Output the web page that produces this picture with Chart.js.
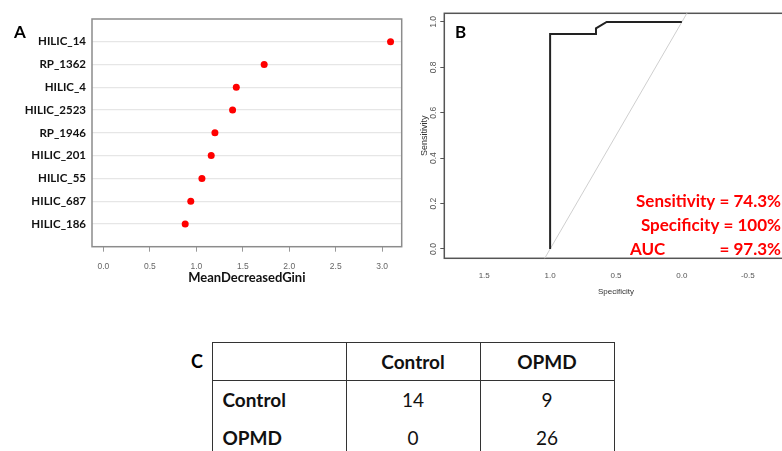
<!DOCTYPE html>
<html>
<head>
<meta charset="utf-8">
<script src="https://cdn.jsdelivr.net/npm/chart.js@4.4.0/dist/chart.umd.min.js"></script>
<style>
  html, body { margin: 0; padding: 0; background: #fff; }
  body { width: 782px; height: 451px; overflow: hidden; position: relative; font-family: Lato, sans-serif; }
  canvas { position: absolute; top: 0; }
  #giniChart { left: 0; }
  #rocChart { left: 400px; }
  .letter { position: absolute; font-weight: 700; line-height: 1.2; color: #000; }
  #confTable { position: absolute; left: 211.5px; top: 341.5px; border-collapse: collapse; table-layout: fixed; width: 403px; }
  #confTable td { border-left: 1.5px solid #333; border-right: 1.5px solid #333; padding: 0; font-size: 19px; color: #111; text-align: center; vertical-align: middle; }
  #confTable tr { height: 38.4px; }
  #confTable tr.head td { border-top: 1.5px solid #333; border-bottom: 1.5px solid #333; font-weight: 700; }
  #confTable td.rowname { text-align: left; padding-left: 10px; font-weight: 700; }
</style>
</head>
<body>
<canvas id="giniChart" width="410" height="295"></canvas>
<canvas id="rocChart" width="400" height="300"></canvas>
<div class="letter" style="left:14px; top:21.5px; font-size:17px;">A</div>
<div class="letter" style="left:455px; top:21.5px; font-size:17px;">B</div>
<div class="letter" style="left:191px; top:350.5px; font-size:18px;">C</div>
<table id="confTable"></table>
<script>
// panel A: variable importance
const features = ['HILIC_14', 'RP_1362', 'HILIC_4', 'HILIC_2523', 'RP_1946', 'HILIC_201', 'HILIC_55', 'HILIC_687', 'HILIC_186'];
const gini = [3.09, 1.73, 1.43, 1.39, 1.20, 1.16, 1.06, 0.94, 0.88];
const giniTicks = [0, 0.5, 1, 1.5, 2, 2.5, 3];

// panel B: ROC curve
const rocSpec = [1.0, 1.0, 0.652, 0.652, 0.571, 0.0];
const rocSens = [0.0, 0.947, 0.947, 0.972, 1.0, 1.0];
const chanceSpec = [1.1, -0.1];
const chanceSens = [-0.1, 1.1];
const specTicks = [1.5, 1, 0.5, 0, -0.5];
const sensTicks = [0, 0.2, 0.4, 0.6, 0.8, 1];
const statNames = ['Sensitivity', 'Specificity', 'AUC'];
const statValues = ['74.3%', '100%', '97.3%'];

// panel C: confusion table
const colNames = ['Control', 'OPMD'];
const rowNames = ['Control', 'OPMD'];
const counts = [[14, 9], [0, 26]];

const narrow = '"Liberation Sans Narrow", "Liberation Sans", sans-serif';

// frame round the plot area
const boxPlugin = {
  id: 'box',
  beforeDatasetsDraw(chart, args, opts) {
    const a = chart.chartArea, ctx = chart.ctx;
    ctx.save();
    ctx.strokeStyle = opts.color;
    ctx.lineWidth = opts.width;
    ctx.strokeRect(a.left, a.top, a.right - a.left, a.bottom - a.top);
    ctx.restore();
  }
};

// R style y labels, turned along the axis
const sideLabels = {
  id: 'sideLabels',
  afterDraw(chart) {
    const s = chart.scales.y, ctx = chart.ctx;
    ctx.save();
    ctx.font = '8.5px "Liberation Sans", sans-serif';
    ctx.fillStyle = '#555';
    ctx.textAlign = 'center';
    ctx.textBaseline = 'middle';
    s.ticks.forEach(function(t) {
      ctx.save();
      ctx.translate(33.3, s.getPixelForValue(t.value));
      ctx.rotate(-Math.PI / 2);
      ctx.fillText(t.value.toFixed(1), 0, 0);
      ctx.restore();
    });
    ctx.restore();
  }
};

// red summary text
const statsText = {
  id: 'statsText',
  afterDraw(chart) {
    const ctx = chart.ctx;
    const baselines = [207, 230.5, 255];
    ctx.save();
    ctx.font = 'bold 17px Lato, sans-serif';
    ctx.fillStyle = '#ff0000';
    ctx.textBaseline = 'alphabetic';
    statNames.forEach(function(name, i) {
      if (name === 'AUC') {
        ctx.textAlign = 'left';
        ctx.fillText(name, 230, baselines[i]);
        ctx.textAlign = 'right';
        ctx.fillText('= ' + statValues[i], 381, baselines[i]);
      } else {
        ctx.textAlign = 'right';
        ctx.fillText(name + ' = ' + statValues[i], 381, baselines[i]);
      }
    });
    ctx.restore();
  }
};

new Chart(document.getElementById('giniChart'), {
  type: 'scatter',
  data: {
    datasets: [{
      data: gini.map((v, i) => ({ x: v, y: features.length - i })),
      pointRadius: 3.5,
      backgroundColor: '#ff0000',
      borderWidth: 0
    }]
  },
  options: {
    responsive: false,
    animation: false,
    events: [],
    layout: { padding: { left: 0, top: 19, right: 8.3, bottom: 0 } },
    plugins: { legend: { display: false }, tooltip: { enabled: false }, box: { color: '#8c8c8c', width: 1.5 } },
    scales: {
      x: {
        type: 'linear', min: -0.123, max: 3.21,
        afterBuildTicks: s => { s.ticks = giniTicks.map(v => ({ value: v })); },
        ticks: { callback: v => v.toFixed(1), font: { family: narrow, size: 8.5 }, color: '#666', padding: 10, maxRotation: 0, autoSkip: false },
        grid: { drawOnChartArea: false, drawTicks: true, tickLength: 5, color: '#999' },
        border: { display: false },
        title: { display: true, text: 'MeanDecreasedGini', font: { family: 'Lato', weight: 'bold', size: 13 }, color: '#111', padding: { top: 0, bottom: 9 } },
        afterFit: s => { s.height = 48.3; }
      },
      y: {
        type: 'linear', min: 0, max: 10,
        afterBuildTicks: s => { s.ticks = features.map((f, i) => ({ value: features.length - i })); },
        ticks: { callback: v => features[features.length - v], font: { family: 'Lato', weight: 'bold', size: 11.5 }, color: '#111', padding: 6, autoSkip: false },
        grid: { color: '#e6e6e6', lineWidth: 1.2, drawTicks: false },
        border: { display: false },
        afterFit: s => { s.width = 92; }
      }
    }
  },
  plugins: [boxPlugin]
});

new Chart(document.getElementById('rocChart'), {
  type: 'scatter',
  data: {
    datasets: [{
      data: rocSpec.map((x, i) => ({ x: x, y: rocSens[i] })),
      showLine: true, borderColor: '#222', borderWidth: 2, pointRadius: 0, order: 0
    }, {
      data: chanceSpec.map((x, i) => ({ x: x, y: chanceSens[i] })),
      showLine: true, borderColor: '#cfcfcf', borderWidth: 1, pointRadius: 0, order: 1
    }]
  },
  options: {
    responsive: false,
    animation: false,
    events: [],
    layout: { padding: { left: 0, top: 13.3, right: 12.3, bottom: 0 } },
    plugins: { legend: { display: false }, tooltip: { enabled: false }, box: { color: '#555', width: 1.5 } },
    scales: {
      x: {
        type: 'linear', reverse: true, min: -0.803, max: 1.803,
        afterBuildTicks: s => { s.ticks = specTicks.map(v => ({ value: v })); },
        ticks: { callback: v => v.toFixed(1), font: { family: narrow, size: 8 }, color: '#555', padding: 12.5, maxRotation: 0, autoSkip: false },
        grid: { display: false, drawTicks: false },
        border: { display: false },
        title: { display: true, text: 'Specificity', font: { family: narrow, size: 8 }, color: '#333', padding: { top: 0, bottom: 3.5 } },
        afterFit: s => { s.height = 41.7; }
      },
      y: {
        type: 'linear', min: -0.041, max: 1.038,
        afterBuildTicks: s => { s.ticks = sensTicks.map(v => ({ value: v })); },
        ticks: { color: 'rgba(0,0,0,0)', font: { size: 8.5 }, autoSkip: false },
        grid: { drawOnChartArea: false, drawTicks: true, tickLength: 4, color: '#555' },
        border: { display: false },
        title: { display: true, text: 'Sensitivity', font: { family: '"Liberation Sans", sans-serif', size: 9 }, color: '#333', padding: { top: 19.6, bottom: 0 } },
        afterFit: s => { s.width = 44.3; }
      }
    }
  },
  plugins: [boxPlugin, sideLabels, statsText]
});

// confusion table
const table = document.getElementById('confTable');
const head = table.insertRow();
head.className = 'head';
head.insertCell().textContent = '';
colNames.forEach(function(c) { head.insertCell().textContent = c; });
rowNames.forEach(function(r, i) {
  const row = table.insertRow();
  const first = row.insertCell();
  first.className = 'rowname';
  first.textContent = r;
  counts[i].forEach(function(n) { row.insertCell().textContent = n; });
});
</script>
</body>
</html>
